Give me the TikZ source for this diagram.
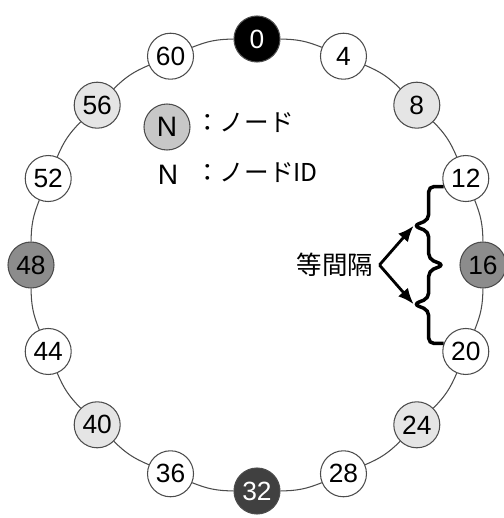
\documentclass[tikz,border=0pt]{standalone}
\usepackage{fontspec}
\setmainfont{Liberation Sans}
\newfontfamily\jpfont{Noto Sans CJK JP}
\usetikzlibrary{arrows.meta,calc}

\begin{document}
\begin{tikzpicture}[
  idnode/.style={circle,draw=black!70,line width=0.6pt,minimum size=0.92cm,inner sep=0pt,font=\fontsize{15}{17}\selectfont},
  nwhite/.style={idnode,fill=white},
  nlight/.style={idnode,fill=black!10},
  nmid/.style={idnode,fill=black!45},
  ndark/.style={idnode,fill=black!75,text=white},
  nblack/.style={idnode,fill=black,text=white},
  ring/.style={draw=black!70,line width=0.6pt},
  brc/.style={line width=2pt,rounded corners=3pt},
  arr/.style={-{Latex[length=3.2mm,width=2.6mm]},line width=1.6pt}
]
\useasboundingbox (-5.14,-5.06) rectangle (4.92,5.30);

% ring of nodes
\node[nblack] (n0) at (90:4.52) {0};
\node[nwhite] (n4) at (67.5:4.52) {4};
\node[nlight] (n8) at (45:4.52) {8};
\node[nwhite] (n12) at (22.5:4.52) {12};
\node[nmid] (n16) at (0:4.52) {16};
\node[nwhite] (n20) at (-22.5:4.52) {20};
\node[nlight] (n24) at (-45:4.52) {24};
\node[nwhite] (n28) at (-67.5:4.52) {28};
\node[ndark] (n32) at (-90:4.52) {32};
\node[nwhite] (n36) at (-112.5:4.52) {36};
\node[nlight] (n40) at (-135:4.52) {40};
\node[nwhite] (n44) at (-157.5:4.52) {44};
\node[nmid] (n48) at (180:4.52) {48};
\node[nwhite] (n52) at (157.5:4.52) {52};
\node[nlight] (n56) at (135:4.52) {56};
\node[nwhite] (n60) at (112.5:4.52) {60};

\draw[ring] (n0) to[bend left=11] (n4);
\draw[ring] (n4) to[bend left=11] (n8);
\draw[ring] (n8) to[bend left=11] (n12);
\draw[ring] (n12) to[bend left=11] (n16);
\draw[ring] (n16) to[bend left=11] (n20);
\draw[ring] (n20) to[bend left=11] (n24);
\draw[ring] (n24) to[bend left=11] (n28);
\draw[ring] (n28) to[bend left=11] (n32);
\draw[ring] (n32) to[bend left=11] (n36);
\draw[ring] (n36) to[bend left=11] (n40);
\draw[ring] (n40) to[bend left=11] (n44);
\draw[ring] (n44) to[bend left=11] (n48);
\draw[ring] (n48) to[bend left=11] (n52);
\draw[ring] (n52) to[bend left=11] (n56);
\draw[ring] (n56) to[bend left=11] (n60);
\draw[ring] (n60) to[bend left=11] (n0);

% legend
\node[idnode,fill=black!22,font=\fontsize{16}{18}\selectfont] (leg) at (-1.80,2.76) {N};
\node[right,inner sep=0pt,font=\fontsize{14}{16}\selectfont] (legtxt) at (-1.24,2.84) {\jpfont ：ノード};
\node[font=\fontsize{16}{18}\selectfont] (legid) at (-1.78,1.80) {N};
\node[right,inner sep=0pt,font=\fontsize{14}{16}\selectfont] (legidtxt) at (-1.24,1.84) {\jpfont ：ノードID};

% braces
\coordinate (bt) at (n12.200);
\coordinate (bb) at (n20.160);
\coordinate (bm) at ($(bt)!0.5!(bb)$);
\coordinate (t1) at ($(bt)!0.5!(bm)+(-0.6,0)$);
\coordinate (t2) at ($(bm)!0.5!(bb)+(-0.6,0)$);
\draw[brc] (bt) -- ($(bt)+(-0.3,0)$) -- ($(t1)+(0.3,0.12)$) -- (t1)
  -- ($(t1)+(0.3,-0.12)$) -- ($(bm)+(-0.3,0.12)$) -- (bm)
  -- ($(bm)+(-0.3,-0.12)$) -- ($(t2)+(0.3,0.12)$) -- (t2)
  -- ($(t2)+(0.3,-0.12)$) -- ($(bb)+(-0.3,0)$) -- (bb);

\node[font=\fontsize{14.5}{17}\selectfont\jpfont] (gap) at (1.56,0) {等間隔};
\draw[arr] (gap.east) -- (t1);
\draw[arr] (gap.east) -- (t2);
\end{tikzpicture}
\end{document}
